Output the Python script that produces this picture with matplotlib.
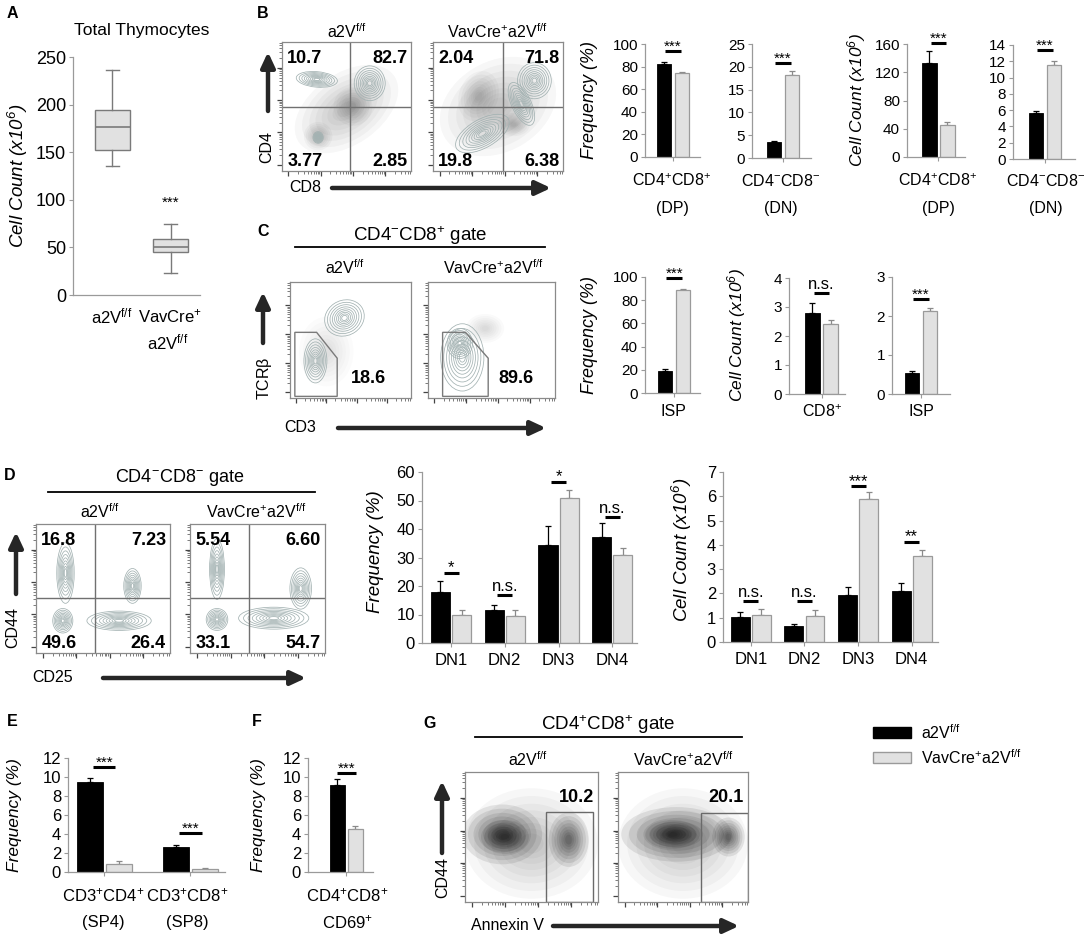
import numpy as np
import matplotlib
matplotlib.use('Agg')
import matplotlib.pyplot as plt
from matplotlib.patches import Ellipse, Polygon, Rectangle

plt.rcParams['font.family'] = ['Liberation Sans', 'DejaVu Sans']
plt.rcParams['mathtext.default'] = 'regular'

# ---------------- data ----------------
# A: total thymocytes box plot (x10^6)
a_whislo = [136, 23]
a_q1 = [152, 45]
a_med = [176, 50.5]
a_q3 = [194, 58.5]
a_whishi = [236, 75]

# B: bars (black = a2V f/f, gray = VavCre+ a2V f/f)
b_freq_dp = [82.5, 74.5]
b_freq_dp_err = [1.5, 0.8]
b_freq_dn = [3.5, 18.1]
b_freq_dn_err = [0.2, 1.0]
b_count_dp = [133.5, 46.0]
b_count_dp_err = [17.0, 3.0]
b_count_dn = [5.7, 11.55]
b_count_dn_err = [0.15, 0.5]

# C
c_freq_isp = [19.0, 88.5]
c_freq_isp_err = [1.5, 1.5]
c_count_cd8 = [2.8, 2.4]
c_count_cd8_err = [0.35, 0.15]
c_count_isp = [0.55, 2.12]
c_count_isp_err = [0.05, 0.08]

# D
dn_labels = ['DN1', 'DN2', 'DN3', 'DN4']
d_freq_black = [17.9, 11.7, 34.5, 37.1]
d_freq_black_err = [3.7, 1.8, 6.4, 5.0]
d_freq_gray = [9.9, 9.6, 50.9, 31.0]
d_freq_gray_err = [1.8, 1.9, 2.9, 2.3]
d_count_black = [1.03, 0.65, 1.95, 2.12]
d_count_black_err = [0.22, 0.1, 0.3, 0.32]
d_count_gray = [1.12, 1.08, 5.88, 3.55]
d_count_gray_err = [0.25, 0.25, 0.28, 0.25]
d_freq_sig = ['*', 'n.s.', '*', 'n.s.']
d_freq_sig_y = [24.6, 16.8, 56.5, 44.2]
d_count_sig = ['n.s.', 'n.s.', '***', '**']
d_count_sig_y = [1.69, 1.69, 6.42, 4.12]

# E / F
e_black = [9.44, 2.63]
e_black_err = [0.45, 0.25]
e_gray = [0.84, 0.32]
e_gray_err = [0.28, 0.1]
e_sig_y = [11.05, 4.1]
f_black = [9.19]
f_black_err = [0.6]
f_gray = [4.56]
f_gray_err = [0.3]

# flow cytometry percentages (UL, UR, LL, LR)
b_quads_ctrl = ['10.7', '82.7', '3.77', '2.85']
b_quads_ko = ['2.04', '71.8', '19.8', '6.38']
c_gate_pct = ['18.6', '89.6']
d_quads_ctrl = ['16.8', '7.23', '49.6', '26.4']
d_quads_ko = ['5.54', '6.60', '33.1', '54.7']
g_gate_pct = ['10.2', '20.1']

# populations seen in the flow plots: (x, y, width, height, angle) in plot fractions
b_ctrl_contours = [(0.27, 0.71, 0.32, 0.12, -5), (0.68, 0.68, 0.24, 0.27, 0), (0.28, 0.26, 0.08, 0.09, 0)]
b_ctrl_dots = [(0.5, 0.48, 0.9, 0.55, 35), (0.28, 0.27, 0.22, 0.22, 0), (0.55, 0.5, 0.3, 0.3, 0)]
b_ko_contours = [(0.78, 0.7, 0.26, 0.28, 0), (0.68, 0.52, 0.15, 0.36, 25), (0.38, 0.29, 0.46, 0.22, 30)]
b_ko_dots = [(0.5, 0.5, 0.95, 0.7, 30), (0.35, 0.58, 0.3, 0.4, -20), (0.62, 0.36, 0.25, 0.18, 0)]
c_ctrl_contours = [(0.45, 0.69, 0.34, 0.3, 35), (0.21, 0.32, 0.19, 0.38, 0)]
c_ctrl_dots = [(0.3, 0.4, 0.45, 0.6, 0)]
c_ko_contours = [(0.27, 0.35, 0.34, 0.58, 0), (0.25, 0.47, 0.2, 0.26, 0)]
c_ko_dots = [(0.45, 0.6, 0.3, 0.25, 0)]
d_ctrl_contours = [(0.22, 0.62, 0.13, 0.47, 0), (0.2, 0.25, 0.15, 0.19, 0),
                   (0.62, 0.25, 0.48, 0.15, 0), (0.72, 0.52, 0.13, 0.27, 0)]
d_ko_contours = [(0.2, 0.65, 0.11, 0.47, 0), (0.2, 0.26, 0.16, 0.17, 0),
                 (0.62, 0.27, 0.52, 0.17, 0), (0.82, 0.5, 0.16, 0.32, 0)]
g_ctrl_dots = [(0.28, 0.52, 0.6, 0.46, 0), (0.3, 0.5, 0.36, 0.26, 0), (0.78, 0.48, 0.3, 0.42, 0)]
g_ko_dots = [(0.45, 0.52, 0.85, 0.42, 0), (0.42, 0.52, 0.42, 0.22, 0), (0.85, 0.5, 0.25, 0.3, 0)]
g_sparse = [(0.5, 0.45, 1.0, 0.85, 0)]

# gates
c_ctrl_gate = [(0.04, 0.014), (0.04, 0.566), (0.22, 0.566), (0.39, 0.343), (0.39, 0.014)]
c_ko_gate = [(0.115, 0.014), (0.115, 0.566), (0.295, 0.566), (0.474, 0.343), (0.474, 0.014)]
g_ctrl_gate = (0.61, 0.0, 0.35, 0.69)
g_ko_gate = (0.64, 0.0, 0.36, 0.685)

ctrl = r'a2V$^{f/f}$'
ko = r'VavCre$^{+}$a2V$^{f/f}$'
BLACK = '#000000'
GRAY = '#e1e1e1'
GRAY_EDGE = '#9a9a9a'
AXC = '#9a9a9a'

W, H = 1086, 936
fig = plt.figure(figsize=(W / 100, H / 100), dpi=100)


def add_ax(x0, y0, x1, y1):
    return fig.add_axes([x0 / W, 1 - y1 / H, (x1 - x0) / W, (y1 - y0) / H])


ov = fig.add_axes([0, 0, 1, 1], zorder=10)
ov.set_xlim(0, W)
ov.set_ylim(H, 0)
ov.set_axis_off()


def txt(x, y, s, size=10.5, **kw):
    kw.setdefault('ha', 'center')
    kw.setdefault('va', 'center')
    ov.text(x, y, s, fontsize=size, **kw)


def arrow(x0, y0, x1, y1):
    ov.annotate('', xy=(x1, y1), xytext=(x0, y0),
                arrowprops=dict(arrowstyle='-|>,head_length=0.9,head_width=0.42',
                                color='#262626', lw=3.2, shrinkA=0, shrinkB=0))


def hline(x0, x1, y):
    ov.plot([x0, x1], [y, y], color='black', lw=1.3)


def style_bar_ax(ax, ylim, yticks, size=10.5):
    ax.set_ylim(*ylim)
    ax.set_yticks(yticks)
    for s in ['top', 'right']:
        ax.spines[s].set_visible(False)
    for s in ['left', 'bottom']:
        ax.spines[s].set_color(AXC)
        ax.spines[s].set_linewidth(0.9)
    ax.tick_params(axis='y', length=3, color=AXC, labelsize=size, pad=2)
    ax.tick_params(axis='x', length=3, color=AXC, labelsize=size, pad=4)
    ax.patch.set_alpha(0)


def bars(rect, black, black_err, gray, gray_err, ylim, yticks, xlim, width, off,
         sig=None, sig_y=None, sig_half=0.22, xlabels=None, size=11, sig_size=11):
    ax = add_ax(*rect)
    x = np.arange(len(black))
    n = len(black)
    ax.bar(x - off, black, width, color=BLACK, edgecolor=BLACK, lw=0.6, zorder=2)
    ax.bar(x + off, gray, width, color=GRAY, edgecolor=GRAY_EDGE, lw=0.9, zorder=2)
    ax.errorbar(x - off, black, yerr=[np.zeros(n), black_err], fmt='none', ecolor='black',
                elinewidth=0.9, capsize=2.2, capthick=0.9, zorder=1)
    ax.errorbar(x + off, gray, yerr=[np.zeros(n), gray_err], fmt='none', ecolor='#8a8a8a',
                elinewidth=0.9, capsize=2.2, capthick=0.9, zorder=1)
    ax.set_xlim(*xlim)
    style_bar_ax(ax, ylim, yticks, size)
    ax.set_xticks(x)
    ax.set_xticklabels(xlabels if xlabels else [''] * n)
    if sig is not None:
        for i, (s, y) in enumerate(zip(sig, sig_y)):
            ax.plot([i - sig_half, i + sig_half], [y, y], color='black', lw=2.2,
                    solid_capstyle='butt', clip_on=False)
            dy = 0.3 if s.startswith('*') else 3
            ax.annotate(s, (i, y), xytext=(0, dy), textcoords='offset points', ha='center',
                        va='baseline', fontsize=sig_size, annotation_clip=False)
    return ax


flow_major = [0.05, 0.3, 0.55, 0.8]
flow_minor = np.concatenate([m + 0.25 * np.log10(np.arange(2, 10)) for m in [0.05, 0.3, 0.55, 0.8]])
contour_scales = [1.0, 0.86, 0.73, 0.61, 0.5, 0.4, 0.31, 0.22, 0.14]
cloud_scales = [1.0, 0.86, 0.72, 0.6, 0.48, 0.37, 0.27, 0.18]


def flow_ax(rect):
    ax = add_ax(*rect)
    ax.set_xlim(0, 1)
    ax.set_ylim(0, 1)
    for s in ax.spines.values():
        s.set_color('#8a8a8a')
        s.set_linewidth(0.9)
    ax.set_xticks(flow_major)
    ax.set_yticks(flow_major)
    ax.set_xticks(flow_minor[flow_minor < 1], minor=True)
    ax.set_yticks(flow_minor[flow_minor < 1], minor=True)
    ax.tick_params(which='major', length=3.5, width=0.9, color='#444', labelbottom=False, labelleft=False)
    ax.tick_params(which='minor', length=2, width=0.6, color='#666')
    return ax


def draw_contours(ax, pops, color='#a3b2b2'):
    for cx, cy, w, h, ang in pops:
        for s in contour_scales:
            ax.add_patch(Ellipse((cx, cy), w * s, h * s, angle=ang, fill=False, ec=color, lw=0.55))


def draw_dots(ax, pops, alpha=0.05, color='#202020'):
    for cx, cy, w, h, ang in pops:
        for s in cloud_scales:
            ax.add_patch(Ellipse((cx, cy), w * s, h * s, angle=ang, fc=color, ec='none', alpha=alpha))


def quadrants(ax, vx, hy, labels, size=13):
    ax.axvline(vx, color='#707070', lw=1)
    ax.axhline(hy, color='#707070', lw=1)
    kw = dict(transform=ax.transAxes, fontsize=size, fontweight='bold', va='center', zorder=5)
    ax.text(0.04, 0.87, labels[0], ha='left', **kw)
    ax.text(0.97, 0.87, labels[1], ha='right', **kw)
    ax.text(0.04, 0.07, labels[2], ha='left', **kw)
    ax.text(0.97, 0.07, labels[3], ha='right', **kw)


# ---------------- A ----------------
axA = add_ax(73, 57, 200, 295)
stats = [dict(whislo=a_whislo[i], q1=a_q1[i], med=a_med[i], q3=a_q3[i], whishi=a_whishi[i], fliers=[])
         for i in range(2)]
axA.bxp(stats, positions=[0, 1], widths=0.6, patch_artist=True, capwidths=0.22,
        boxprops=dict(facecolor=GRAY, edgecolor='#7a7a7a', lw=1),
        medianprops=dict(color='#7a7a7a', lw=1.2),
        whiskerprops=dict(color='#7a7a7a', lw=1), capprops=dict(color='#7a7a7a', lw=1))
axA.set_xlim(-0.675, 1.5)
style_bar_ax(axA, (0, 250), range(0, 251, 50), size=13)
axA.set_xticks([])
txt(12, 13, 'A', 11.5, fontweight='bold')
txt(142, 31, 'Total Thymocytes', 12.5)
txt(18, 176, r'Cell Count (x10$^{6}$)', 13.5, rotation=90, style='italic')
txt(171, 203, '***', 11)
txt(112, 316, ctrl, 12)
txt(170, 316, r'VavCre$^{+}$', 12)
txt(168, 342, ctrl, 12)

# ---------------- B ----------------
txt(263, 13, 'B', 11.5, fontweight='bold')
fb1 = flow_ax((282, 42, 411, 171))
draw_dots(fb1, b_ctrl_dots, alpha=0.035)
draw_contours(fb1, b_ctrl_contours)
quadrants(fb1, 0.53, 0.5, b_quads_ctrl)
fb2 = flow_ax((433, 42, 563, 171))
draw_dots(fb2, b_ko_dots, alpha=0.035)
draw_contours(fb2, b_ko_contours)
quadrants(fb2, 0.54, 0.5, b_quads_ko)
txt(347, 32, ctrl, 11.5)
txt(497, 32, ko, 11.5)
txt(267, 147, 'CD4', 11.5, rotation=90)
arrow(268, 111, 268, 52)
txt(305, 188, 'CD8', 11.5)
arrow(332, 188, 551, 188)

bars((645, 44, 700, 157), b_freq_dp[:1], b_freq_dp_err[:1], b_freq_dp[1:], b_freq_dp_err[1:],
     (0, 100), range(0, 101, 20), (-0.78, 0.75), 0.4, 0.25, ['***'], [93.8])
bars((752, 44, 811, 158), b_freq_dn[:1], b_freq_dn_err[:1], b_freq_dn[1:], b_freq_dn_err[1:],
     (0, 25), range(0, 26, 5), (-0.86, 0.78), 0.4, 0.25, ['***'], [20.8])
bars((907, 44, 965, 157), b_count_dp[:1], b_count_dp_err[:1], b_count_dp[1:], b_count_dp_err[1:],
     (0, 160), range(0, 161, 40), (-0.875, 0.74), 0.4, 0.25, ['***'], [161])
bars((1013, 45, 1075, 159), b_count_dn[:1], b_count_dn_err[:1], b_count_dn[1:], b_count_dn_err[1:],
     (0, 14), range(0, 15, 2), (-0.89, 0.83), 0.4, 0.25, ['***'], [13.4])
txt(590, 100, 'Frequency (%)', 13, rotation=90, style='italic')
txt(857, 100, r'Cell Count (x10$^{6}$)', 12.5, rotation=90, style='italic')
for xc, l1, l2 in [(672, r'CD4$^{+}$CD8$^{+}$', '(DP)'), (781, r'CD4$^{-}$CD8$^{-}$', '(DN)'),
                   (938, r'CD4$^{+}$CD8$^{+}$', '(DP)'), (1046, r'CD4$^{-}$CD8$^{-}$', '(DN)')]:
    txt(xc, 181, l1, 11.5)
    txt(xc, 208, l2, 11.5)

# ---------------- C ----------------
txt(263, 232, 'C', 11.5, fontweight='bold')
txt(420, 236, r'CD4$^{-}$CD8$^{+}$ gate', 13.5)
hline(295, 545, 247)
txt(345, 268, ctrl, 11.5)
txt(493, 268, ko, 11.5)
fc1 = flow_ax((290, 282, 411, 398))
draw_dots(fc1, c_ctrl_dots, alpha=0.015)
draw_contours(fc1, c_ctrl_contours)
fc1.add_patch(Polygon(c_ctrl_gate, closed=True, fill=False, ec='#7a7a7a', lw=1))
fc1.text(0.65, 0.17, c_gate_pct[0], transform=fc1.transAxes, fontsize=13, fontweight='bold',
         ha='center', va='center')
fc2 = flow_ax((428, 282, 555, 398))
draw_dots(fc2, c_ko_dots, alpha=0.02)
draw_contours(fc2, c_ko_contours)
fc2.add_patch(Polygon(c_ko_gate, closed=True, fill=False, ec='#7a7a7a', lw=1))
fc2.text(0.69, 0.17, c_gate_pct[1], transform=fc2.transAxes, fontsize=13, fontweight='bold',
         ha='center', va='center')
txt(265, 378, r'TCR$\beta$', 11.5, rotation=90)
arrow(263, 343, 263, 292)
txt(300, 428, 'CD3', 11.5)
arrow(338, 428, 546, 428)

bars((645, 277, 700, 393), c_freq_isp[:1], c_freq_isp_err[:1], c_freq_isp[1:], c_freq_isp_err[1:],
     (0, 100), range(0, 101, 20), (-0.81, 0.72), 0.4, 0.25, ['***'], [99])
bars((789, 278, 845, 394), c_count_cd8[:1], c_count_cd8_err[:1], c_count_cd8[1:], c_count_cd8_err[1:],
     (0, 4), range(0, 5), (-0.9, 0.65), 0.4, 0.25, ['n.s.'], [3.48], sig_size=12)
bars((892, 277, 950, 394), c_count_isp[:1], c_count_isp_err[:1], c_count_isp[1:], c_count_isp_err[1:],
     (0, 3), range(0, 4), (-0.8, 0.8), 0.4, 0.25, ['***'], [2.44])
txt(590, 335, 'Frequency (%)', 13, rotation=90, style='italic')
txt(737, 335, r'Cell Count (x10$^{6}$)', 12.5, rotation=90, style='italic')
txt(673, 412, 'ISP', 11.5)
txt(822, 412, r'CD8$^{+}$', 11.5)
txt(921, 412, 'ISP', 11.5)

# ---------------- D ----------------
txt(10, 475, 'D', 11.5, fontweight='bold')
txt(180, 478, r'CD4$^{-}$CD8$^{-}$ gate', 13)
hline(48, 315, 492)
txt(100, 512, ctrl, 11.5)
txt(256, 512, ko, 11.5)
fd1 = flow_ax((36, 524, 170, 653))
draw_contours(fd1, d_ctrl_contours)
quadrants(fd1, 0.44, 0.43, d_quads_ctrl)
fd2 = flow_ax((190, 524, 325, 653))
draw_contours(fd2, d_ko_contours)
quadrants(fd2, 0.44, 0.43, d_quads_ko)
txt(13, 627, 'CD44', 11.5, rotation=90)
arrow(16, 594, 16, 532)
txt(53, 678, 'CD25', 11.5)
arrow(103, 678, 306, 678)

bars((422, 472, 637, 643), d_freq_black, d_freq_black_err, d_freq_gray, d_freq_gray_err,
     (0, 60), range(0, 61, 10), (-0.54, 3.46), 0.354, 0.196, d_freq_sig, d_freq_sig_y,
     sig_half=0.14, xlabels=dn_labels, size=12, sig_size=12)
bars((723, 472, 938, 642), d_count_black, d_count_black_err, d_count_gray, d_count_gray_err,
     (0, 7), range(0, 8), (-0.52, 3.49), 0.354, 0.196, d_count_sig, d_count_sig_y,
     sig_half=0.14, xlabels=dn_labels, size=12, sig_size=12)
txt(375, 552, 'Frequency (%)', 13.5, rotation=90, style='italic')
txt(682, 550, r'Cell Count (x10$^{6}$)', 13.5, rotation=90, style='italic')

# ---------------- E ----------------
txt(12, 722, 'E', 11.5, fontweight='bold')
bars((68, 758, 225, 872), e_black, e_black_err, e_gray, e_gray_err,
     (0, 12), range(0, 13, 2), (-0.42, 1.40), 0.30, 0.17, ['***', '***'], e_sig_y,
     sig_half=0.13, size=12)
txt(15, 815, 'Frequency (%)', 12.5, rotation=90, style='italic')
txt(103, 895, r'CD3$^{+}$CD4$^{+}$', 12)
txt(103, 922, '(SP4)', 12)
txt(187, 895, r'CD3$^{+}$CD8$^{+}$', 12)
txt(187, 922, '(SP8)', 12)

# ---------------- F ----------------
txt(257, 722, 'F', 11.5, fontweight='bold')
bars((308, 758, 373, 872), f_black, f_black_err, f_gray, f_gray_err,
     (0, 12), range(0, 13, 2), (-1.07, 0.74), 0.42, 0.25, ['***'], [10.4],
     sig_half=0.27, size=12)
txt(258, 815, 'Frequency (%)', 12.5, rotation=90, style='italic')
txt(347, 895, r'CD4$^{+}$CD8$^{+}$', 12)
txt(347, 922, r'CD69$^{+}$', 12)

# ---------------- G ----------------
txt(430, 723, 'G', 11.5, fontweight='bold')
txt(608, 725, r'CD4$^{+}$CD8$^{+}$ gate', 13.5)
hline(475, 742, 737)
txt(528, 760, ctrl, 11.5)
txt(683, 760, ko, 11.5)
fg1 = flow_ax((465, 772, 598, 902))
draw_dots(fg1, g_sparse, alpha=0.03, color='black')
draw_dots(fg1, g_ctrl_dots, alpha=0.085, color='black')
fg1.add_patch(Rectangle(g_ctrl_gate[:2], g_ctrl_gate[2], g_ctrl_gate[3], fill=False, ec='#6a6a6a', lw=1))
fg1.text(0.97, 0.8, g_gate_pct[0], transform=fg1.transAxes, fontsize=13, fontweight='bold',
         ha='right', va='center')
fg2 = flow_ax((618, 772, 748, 902))
draw_dots(fg2, g_sparse, alpha=0.03, color='black')
draw_dots(fg2, g_ko_dots, alpha=0.085, color='black')
fg2.add_patch(Rectangle(g_ko_gate[:2], g_ko_gate[2], g_ko_gate[3], fill=False, ec='#6a6a6a', lw=1))
fg2.text(0.97, 0.8, g_gate_pct[1], transform=fg2.transAxes, fontsize=13, fontweight='bold',
         ha='right', va='center')
txt(443, 877, 'CD44', 11.5, rotation=90)
arrow(442, 853, 442, 781)
txt(507, 926, 'Annexin V', 11.5)
arrow(553, 926, 739, 926)

# legend
ov.add_patch(Rectangle((873, 727), 38, 11, fc=BLACK, ec=BLACK))
ov.add_patch(Rectangle((873, 752), 38, 11, fc=GRAY, ec=GRAY_EDGE, lw=1))
txt(921, 733, ctrl, 11.5, ha='left')
txt(921, 758, ko, 11.5, ha='left')

fig.savefig('out.png', dpi=100)
